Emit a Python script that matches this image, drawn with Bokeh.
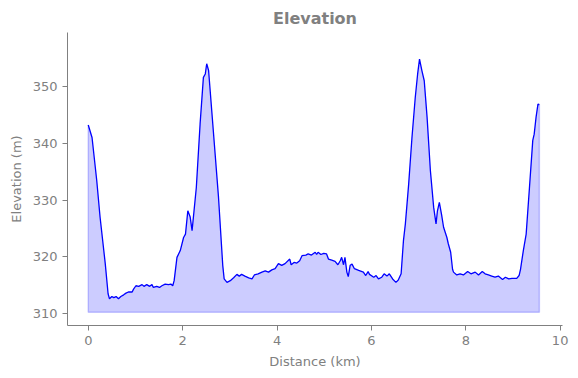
from bokeh.plotting import figure
from bokeh.models import Range1d, FixedTicker
from bokeh.embed import file_html
from bokeh.resources import INLINE

distance_km = [
    0.00, 0.08, 0.18, 0.25, 0.36, 0.42,
    0.45, 0.50, 0.54, 0.59, 0.64, 0.69, 0.75, 0.80, 0.85, 0.93, 0.96, 1.01, 1.07, 1.14, 1.18, 1.24,
    1.30, 1.35, 1.38, 1.45, 1.51, 1.56, 1.63, 1.70, 1.75, 1.79, 1.82,
    1.88, 1.95, 2.02, 2.06, 2.11, 2.16, 2.20, 2.29, 2.37, 2.44, 2.48, 2.51, 2.55, 2.65, 2.76, 2.85,
    2.88, 2.94, 3.01, 3.08, 3.15, 3.20, 3.25, 3.32, 3.40, 3.47, 3.52, 3.60, 3.68, 3.75, 3.82, 3.89,
    3.96, 4.03, 4.10, 4.17, 4.27, 4.30, 4.36, 4.42, 4.48, 4.53, 4.61, 4.66, 4.73, 4.81, 4.84, 4.87,
    4.93, 4.99, 5.05, 5.09, 5.16, 5.23, 5.29, 5.34, 5.37, 5.41, 5.44, 5.48, 5.51, 5.55, 5.59, 5.64,
    5.73, 5.83, 5.88, 5.93, 5.96, 6.05, 6.10, 6.15, 6.22, 6.27, 6.33, 6.38, 6.45, 6.52, 6.57, 6.63,
    6.68, 6.72, 6.79, 6.86, 6.93, 6.98, 7.02, 7.07, 7.12, 7.18, 7.25, 7.32, 7.37, 7.40, 7.44, 7.49,
    7.53, 7.60, 7.63, 7.68, 7.72,
    7.74, 7.81, 7.88, 7.95, 8.04, 8.11, 8.20, 8.27, 8.35, 8.41, 8.48, 8.55, 8.62, 8.69, 8.78, 8.84,
    8.91, 8.98, 9.08, 9.13,
    9.16, 9.22, 9.28, 9.35, 9.42, 9.45, 9.49, 9.53, 9.56]
elevation_m = [
    343.2, 341.0, 333.4, 327.0, 318.8, 313.5,
    312.6, 313.0, 312.8, 313.0, 312.6, 313.0, 313.3, 313.6, 313.8, 313.8, 314.3, 314.9, 314.8, 315.1, 314.8, 315.1,
    314.8, 315.1, 314.6, 314.8, 314.6, 314.9, 315.2, 315.1, 315.2, 314.9, 315.8,
    319.9, 321.1, 323.4, 324.0, 328.1, 327.0, 324.6, 332.2, 343.4, 351.6, 352.2, 354.0, 352.8, 342.2, 330.5, 318.5,
    316.1, 315.5, 315.8, 316.3, 316.9, 316.6, 316.9, 316.6, 316.3, 316.1, 316.8, 317.0, 317.3, 317.5, 317.3, 317.7,
    317.9, 318.8, 318.5, 318.8, 319.6, 318.6, 319.0, 318.9, 319.3, 320.2, 320.3, 320.5, 320.3, 320.8, 320.4, 320.8,
    320.4, 320.6, 320.5, 319.6, 319.4, 319.2, 318.6, 319.3, 319.9, 318.6, 319.9, 317.3, 316.5, 318.5, 318.7, 317.9,
    317.6, 317.3, 316.7, 317.4, 316.9, 316.4, 316.7, 316.1, 316.4, 317.0, 316.6, 317.0, 316.1, 315.5, 315.9, 317.0,
    322.9, 325.8, 332.8, 341.0, 348.1, 352.2, 354.8, 352.8, 351.0, 344.6, 335.2, 328.7, 325.8, 328.1, 329.6, 327.3,
    325.2, 323.4, 322.3, 320.8, 317.8,
    317.3, 316.8, 317.0, 316.8, 317.4, 317.0, 317.3, 316.8, 317.4, 317.0, 316.8, 316.6, 316.4, 316.6, 316.0, 316.4,
    316.1, 316.2, 316.2, 316.7,
    317.8, 321.1, 324.0, 332.2, 340.5, 341.6, 344.6, 346.9, 346.8]
x_ticks = [0, 2, 4, 6, 8, 10]
y_ticks = [310, 320, 330, 340, 350]
fill_base = 310.25

grey = "#808080"
font = "DejaVu Sans"

p = figure(width=578, height=378, output_backend="svg", toolbar_location=None,
           x_range=Range1d(-0.44, 10.05), y_range=Range1d(307.9, 359.5),
           title="Elevation")
p.min_border_left = 67
p.min_border_right = 16
p.min_border_top = 32
p.min_border_bottom = 53
p.outline_line_color = None
p.xgrid.visible = False
p.ygrid.visible = False

p.title.align = "center"
p.title.text_font = font
p.title.text_font_size = "16px"
p.title.text_font_style = "bold"
p.title.text_color = grey

p.varea(x=distance_km, y1=[fill_base] * len(distance_km), y2=elevation_m,
        fill_color="#0000ff", fill_alpha=0.2)
p.line(x=[distance_km[0], distance_km[0], distance_km[-1], distance_km[-1]],
       y=[elevation_m[0], fill_base, fill_base, elevation_m[-1]],
       line_color="#0000ff", line_alpha=0.2, line_width=1.5)
p.line(x=distance_km, y=elevation_m, line_color="#0000ff", line_width=1.3)

for ax, ticks, label in ((p.xaxis[0], x_ticks, "Distance (km)"), (p.yaxis[0], y_ticks, "Elevation (m)")):
    ax.ticker = FixedTicker(ticks=ticks)
    ax.axis_label = label
    ax.axis_label_text_font = font
    ax.axis_label_text_font_size = "13px"
    ax.axis_label_text_font_style = "normal"
    ax.axis_label_text_color = grey
    ax.major_label_text_font = font
    ax.major_label_text_font_size = "13px"
    ax.major_label_text_color = grey
    ax.axis_line_color = grey
    ax.major_tick_line_color = grey
    ax.major_tick_out = 5
    ax.major_tick_in = 0
    ax.minor_tick_line_color = None
    ax.axis_label_standoff = 6

open("out.html", "w").write(file_html(p, INLINE))
